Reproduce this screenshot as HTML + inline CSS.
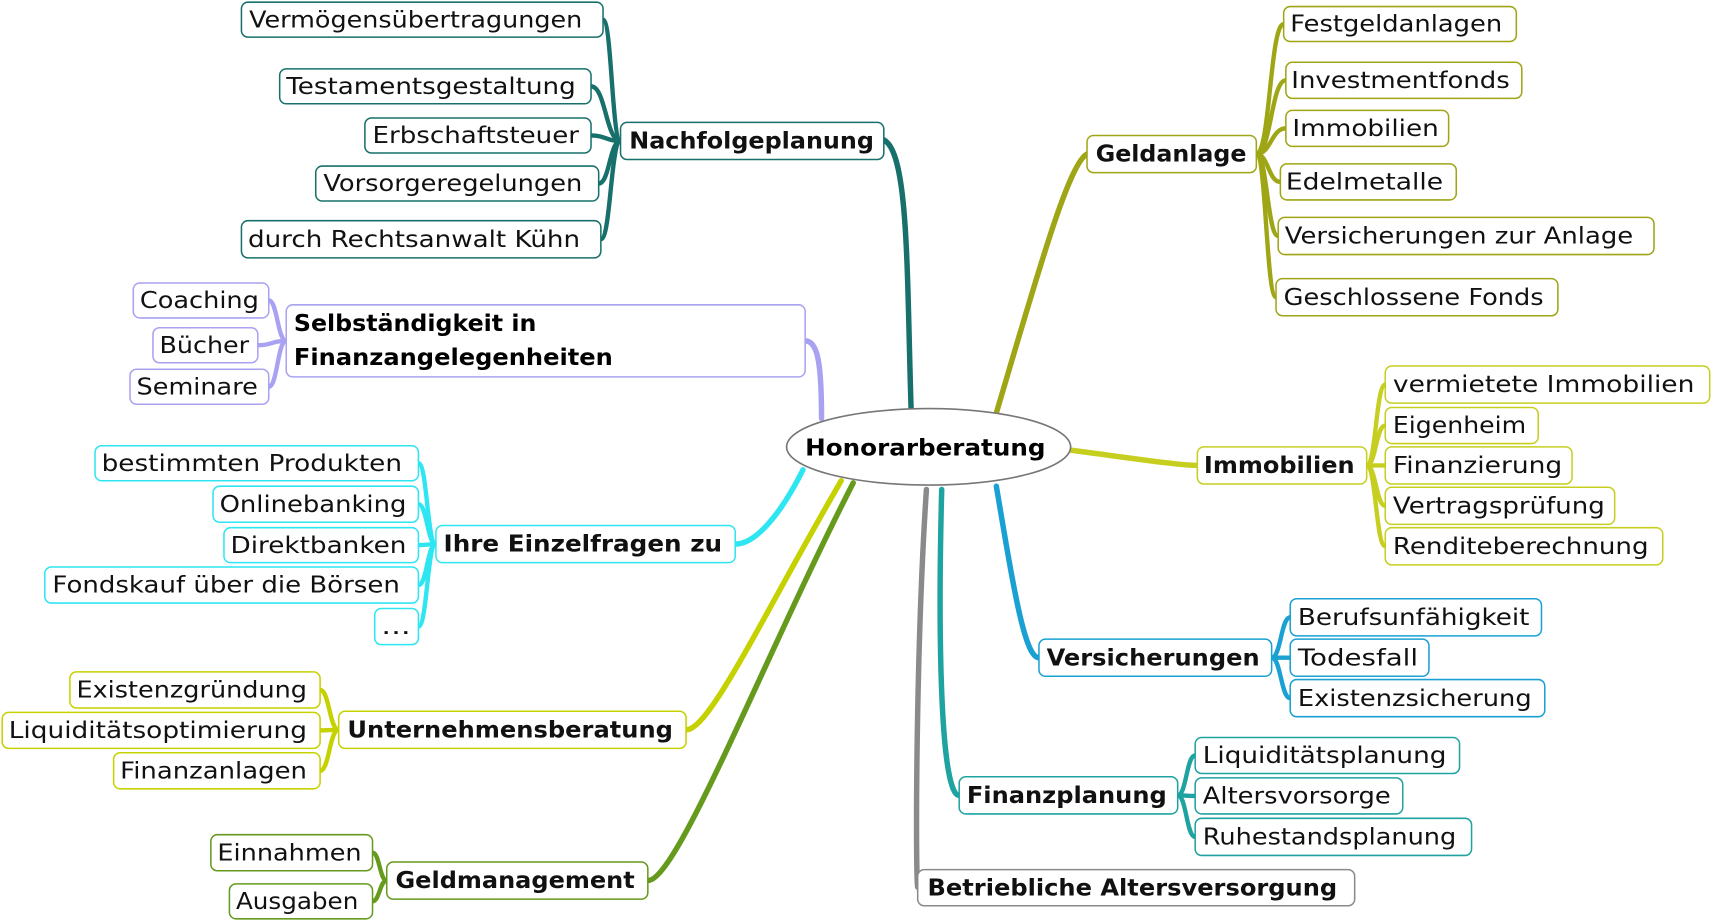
<!DOCTYPE html>
<html><head><meta charset="utf-8"><style>html,body{margin:0;padding:0;background:#fff;overflow:hidden}svg{display:block}</style></head>
<body>
<svg id="s" width="1713" height="921" viewBox="0 0 1568 843" preserveAspectRatio="none" xmlns="http://www.w3.org/2000/svg">
<rect width="1568" height="843" fill="#fff"/>
<g id="lines" fill="none" stroke-linecap="round"></g>
<ellipse cx="850" cy="409" rx="130" ry="35" fill="#fff" stroke="#777" stroke-width="1.5"/>
<text x="737" y="417" font-family="DejaVu Sans, sans-serif" font-weight="bold" font-size="21" textLength="220" lengthAdjust="spacingAndGlyphs">Honorarberatung</text>
<g id="nodes"></g>
</svg>
<script>
var NS="http://www.w3.org/2000/svg";
var L=document.getElementById('lines'),N=document.getElementById('nodes');
function el(p,t,a,txt){var e=document.createElementNS(NS,t);for(var k in a)e.setAttribute(k,a[k]);if(txt)e.textContent=txt;p.appendChild(e);return e;}
function path(d,c,w){el(L,'path',{d:d,stroke:c,'stroke-width':w});}
function node(x1,y1,x2,y2,t,tx1,tx2,b,c){
 el(N,'rect',{x:x1,y:y1,width:x2-x1,height:y2-y1,rx:6,fill:'#fff',stroke:c,'stroke-width':1.4});
 el(N,'text',{x:tx1,y:(y1+y2)/2+7,'font-family':'DejaVu Sans, sans-serif','font-size':21,'font-weight':b?'bold':'normal',fill:'#111',textLength:tx2-tx1,lengthAdjust:'spacingAndGlyphs'},t);
}
function group(p,kids,c,side){
 node(p[0],p[1],p[2],p[3],p[4],p[5],p[6],true,c);
 var py=(p[1]+p[3])/2;
 kids.forEach(function(k){
  var cy=(k[1]+k[3])/2,px,cx;
  if(side<0){px=p[0];cx=k[2];}else{px=p[2];cx=k[0];}
  var mx=(px+cx)/2;
  path('M'+px+','+py+' C'+mx+','+py+' '+mx+','+cy+' '+cx+','+cy,c,4);
  node(k[0],k[1],k[2],k[3],k[4],k[5],k[6],false,c);
 });
}
// main connectors
path('M834,375 C830,250 832,140 809,128','#17706b',5);
path('M912,378 C950,250 978,150 995,141','#9ea615',5);
path('M752,383 C752,330 748,312 737,312','#a9a2f2',5);
path('M735,430 C715,470 692,498 673,498','#2ee6f2',5);
path('M770,440 C700,560 650,668 628,668','#c6d100',5);
path('M781,442 C700,600 620,806 593,806','#659a1c',5);
path('M848,448 C838,600 838,800 840,812','#8a8a8a',5);
path('M862,448 C858,600 862,728 878,728','#1fa3a0',5);
path('M912,445 C928,540 938,602 951,602','#1aa0d2',5);
path('M980,412 C1040,420 1080,426 1096,426','#c6cf20',5);

group([568,112,809,146,'Nachfolgeplanung',576,800],[
 [221,2,552,34,'Vermögensübertragungen',228,533],
 [256,63,541,95,'Testamentsgestaltung',262,527],
 [334,108,541,140,'Erbschaftsteuer',341,530],
 [289,152,548,184,'Vorsorgeregelungen',296,533],
 [221,202,550,236,'durch Rechtsanwalt Kühn',227,531]],'#17706b',-1);

// Selbständigkeit (two lines)
(function(){var c='#a9a2f2';
 var kids=[[122,259,246,291,'Coaching',128,237],[140,300,236,332,'Bücher',146,228],[119,338,246,370,'Seminare',125,236]];
 kids.forEach(function(k){var cy=(k[1]+k[3])/2,mx=(262+k[2])/2;path('M262,312 C'+mx+',312 '+mx+','+cy+' '+k[2]+','+cy,c,4);node(k[0],k[1],k[2],k[3],k[4],k[5],k[6],false,c);});
 el(N,'rect',{x:262,y:279,width:475,height:66,rx:6,fill:'#fff',stroke:c,'stroke-width':1.4});
 el(N,'text',{x:269,y:303,'font-family':'DejaVu Sans, sans-serif','font-size':21,'font-weight':'bold',textLength:222,lengthAdjust:'spacingAndGlyphs'},'Selbständigkeit in');
 el(N,'text',{x:269,y:334,'font-family':'DejaVu Sans, sans-serif','font-size':21,'font-weight':'bold',textLength:292,lengthAdjust:'spacingAndGlyphs'},'Finanzangelegenheiten');
})();

group([399,481,673,515,'Ihre Einzelfragen zu',406,661],[
 [87,408,383,440,'bestimmten Produkten',93,368],
 [195,445,383,478,'Onlinebanking',201,372],
 [205,483,383,515,'Direktbanken',211,372],
 [41,519,383,552,'Fondskauf über die Börsen',48,366],
 [343,557,383,590,'...',349,376]],'#2ee6f2',-1);

group([310,651,628,685,'Unternehmensberatung',318,616],[
 [64,615,293,648,'Existenzgründung',70,281],
 [2,652,293,685,'Liquiditätsoptimierung',8,281],
 [104,689,293,722,'Finanzanlagen',110,281]],'#c6d100',-1);

group([354,789,593,823,'Geldmanagement',362,581],[
 [193,764,341,797,'Einnahmen',199,331],
 [210,809,341,841,'Ausgaben',216,328]],'#659a1c',-1);

group([995,124,1150,158,'Geldanlage',1003,1141],[
 [1175,6,1388,38,'Festgeldanlagen',1181,1375],
 [1177,57,1393,90,'Investmentfonds',1182,1382],
 [1177,101,1326,134,'Immobilien',1183,1317],
 [1172,150,1333,183,'Edelmetalle',1177,1321],
 [1170,199,1514,233,'Versicherungen zur Anlage',1176,1495],
 [1168,255,1426,289,'Geschlossene Fonds',1175,1413]],'#9ea615',1);

group([1096,409,1251,443,'Immobilien',1102,1240],[
 [1268,335,1565,369,'vermietete Immobilien',1275,1551],
 [1268,373,1408,406,'Eigenheim',1275,1397],
 [1268,409,1439,443,'Finanzierung',1275,1430],
 [1268,446,1478,480,'Vertragsprüfung',1275,1469],
 [1268,483,1522,517,'Renditeberechnung',1275,1509]],'#c6cf20',1);

group([951,585,1164,619,'Versicherungen',958,1153],[
 [1181,548,1411,582,'Berufsunfähigkeit',1188,1400],
 [1181,585,1308,619,'Todesfall',1188,1298],
 [1181,622,1414,656,'Existenzsicherung',1188,1402]],'#1aa0d2',1);

group([878,711,1078,745,'Finanzplanung',885,1068],[
 [1094,675,1336,708,'Liquiditätsplanung',1101,1324],
 [1094,712,1284,745,'Altersvorsorge',1101,1273],
 [1094,749,1347,783,'Ruhestandsplanung',1101,1333]],'#1fa3a0',1);

node(840,796,1240,829,'Betriebliche Altersversorgung',849,1224,true,'#8a8a8a');
</script>
</body></html>
